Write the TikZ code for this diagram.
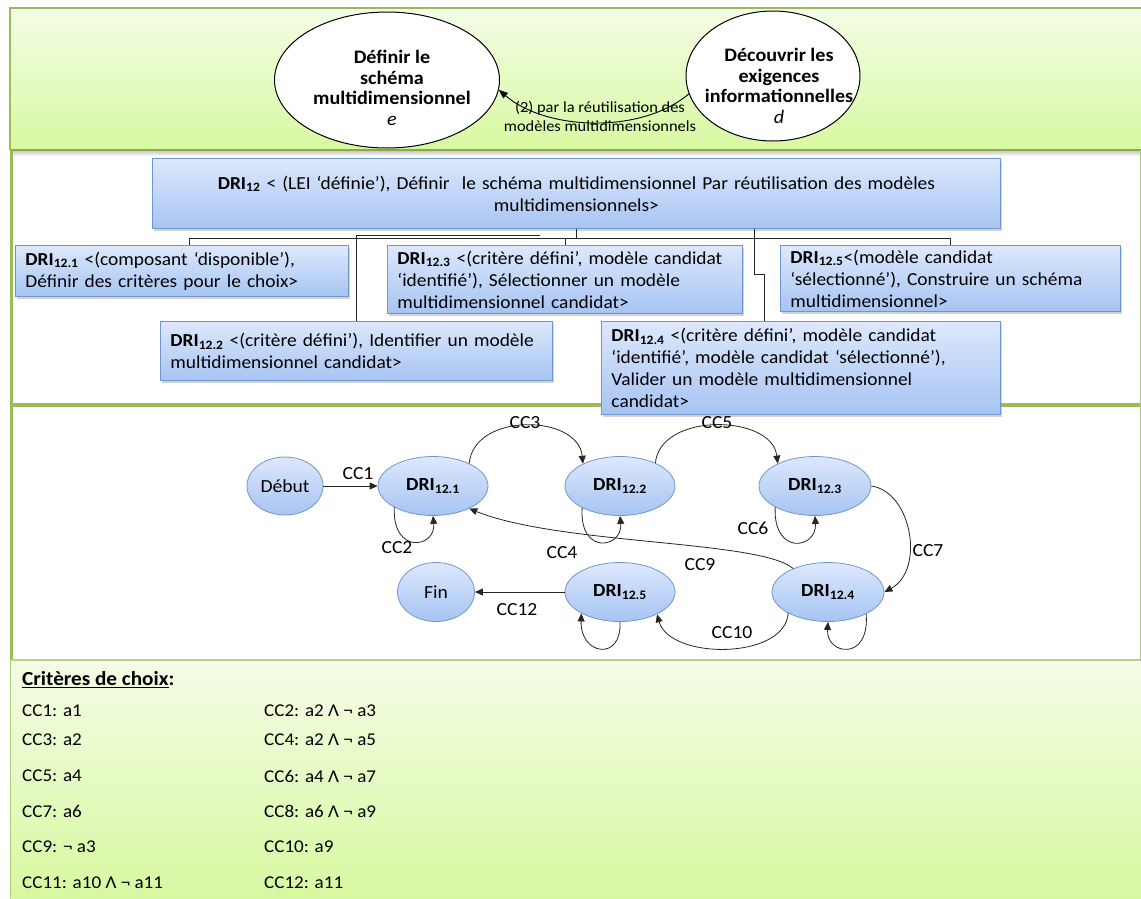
\documentclass[tikz,border=0pt]{standalone}
\usepackage{fontspec}
\setmainfont{Carlito}[FakeStretch=1.06]
\usetikzlibrary{arrows.meta,shapes.geometric,shadows,calc}
\definecolor{gtop}{HTML}{F3FDE6}
\definecolor{gbot}{HTML}{D8F8A0}
\definecolor{gline}{HTML}{9BBB59}
\definecolor{btop}{HTML}{DDE8FC}
\definecolor{bbot}{HTML}{A6C4F3}
\definecolor{bline}{HTML}{6E97CE}
\tikzset{
  dribox/.style={draw=bline, line width=0.9pt, top color=btop, bottom color=bbot,
    drop shadow={shadow xshift=2pt, shadow yshift=-2.5pt, opacity=0.35},
    anchor=north west, inner xsep=10pt, inner ysep=3pt, align=left,
    font=\fontsize{18.3}{22}\selectfont},
  state/.style={ellipse, draw=bline, line width=0.8pt, top color=btop, bottom color=bbot,
    inner sep=0pt, minimum width=110pt, minimum height=59pt,
    font=\fontsize{18.5}{20}\selectfont\bfseries},
  topell/.style={ellipse, draw=black, line width=1pt, fill=white, inner sep=0pt},
  toptxt/.style={align=center, inner sep=0pt, font=\fontsize{19}{20.5}\selectfont\bfseries},
  conn/.style={draw=black!85, line width=0.8pt},
  arr/.style={-{Triangle[length=8pt,width=7pt]}, line width=0.8pt, draw=black!85},
  lab/.style={inner sep=0pt, font=\fontsize{18.5}{20}\selectfont},
  crit/.style={anchor=west, inner sep=0pt, font=\fontsize{18}{22}\selectfont}
}
\begin{document}
\begin{tikzpicture}[x=1pt,y=1pt]
\useasboundingbox (0,0) rectangle (1141,-898);
\fill[white] (0,0) rectangle (1141,-898);
% panels
\shade[top color=gtop, bottom color=gbot] (10,-8) rectangle (1141,-150);
\draw[gline, line width=1.2pt] (1141,-8) -- (10,-8) -- (10,-150);
\fill[white] (11,-150) rectangle (1140,-660);
\shade[top color=black!25, bottom color=white] (11,-150) rectangle (1140,-156);
\draw[gline!90!black, line width=2pt] (10,-150) -- (1141,-150);
\draw[gline, line width=3pt] (11.5,-150) -- (11.5,-660);
\draw[gline, line width=4pt] (10,-405) -- (1140,-405);
\draw[gline!80, line width=1pt] (1140,-150) -- (1140,-660);
\shade[top color=gtop, bottom color=gbot] (10,-660) rectangle (1141,-898);
\draw[gline!70, line width=1.5pt] (10,-660) -- (1141,-660);
\draw[gline!80, line width=1.2pt] (10.5,-660) -- (10.5,-898);
% top panel
\node[topell, minimum width=225pt, minimum height=136pt] (E) at (387,-80) {};
\node[toptxt] (Et) at (392,-88) {Définir le\\schéma\\multidimensionnel\\{\mdseries\itshape e}};
\node[topell, minimum width=174pt, minimum height=130pt] (D) at (773,-76) {};
\node[toptxt] (Dt) at (779,-86) {Découvrir les\\exigences\\informationnelles\\{\mdseries\itshape d}};
\draw[-{Triangle[length=9pt,width=7pt]}, line width=0.9pt] (D.192) .. controls (640,-135) and (545,-130) .. (E.355);
\node[font=\fontsize{15.5}{19}\selectfont, align=center, inner sep=0pt] (lbl) at (600,-116)
  {(2) par la réutilisation des\\modèles multidimensionnels};
% middle panel boxes
\node[dribox, align=center, text width=828pt, minimum height=70pt] (P) at (152,-158)
  {\textbf{DRI}\textsubscript{\textbf{12}} < (LEI ‘définie’), Définir\ \ le schéma multidimensionnel Par réutilisation des modèles\\multidimensionnels>};
\node[dribox, text width=313pt, minimum height=51pt] (C1) at (15,-245)
  {\mbox{\textbf{DRI}\textsubscript{\textbf{12.1}} <(composant ‘disponible’),}\\\mbox{Définir des critères pour le choix>}};
\node[dribox, text width=335pt, minimum height=68pt] (C3) at (387,-245)
  {\mbox{\textbf{DRI}\textsubscript{\textbf{12.3}} <(critère défini’, modèle candidat}\\\mbox{‘identifié’), Sélectionner un modèle}\\\mbox{multidimensionnel candidat>}};
\node[dribox, text width=320pt, minimum height=66pt] (C5) at (780,-245)
  {\mbox{\textbf{DRI}\textsubscript{\textbf{12.5}}<(modèle candidat}\\\mbox{‘sélectionné’), Construire un schéma}\\\mbox{multidimensionnel>}};
\node[dribox, text width=372pt, minimum height=59pt] (C2) at (160,-321)
  {\mbox{\textbf{DRI}\textsubscript{\textbf{12.2}} <(critère défini’), Identifier un modèle}\\\mbox{multidimensionnel candidat>}};
\node[dribox, text width=379pt, minimum height=93pt] (C4) at (601,-321)
  {\mbox{\textbf{DRI}\textsubscript{\textbf{12.4}} <(critère défini’, modèle candidat}\\\mbox{‘identifié’, modèle candidat ‘sélectionné’),}\\\mbox{Valider un modèle multidimensionnel}\\\mbox{candidat>}};
% tree connectors
\coordinate (bus) at (576,-238);
\coordinate (c2end) at (540,-235);
\draw[conn] (P.south -| bus) -- (bus);
\draw[conn] ($(C1.north west)+(174,0)$) |- (C5.north |- bus) -- (C5.north);
\draw[conn] (C3.north) -- (C3.north |- bus);
\draw[conn] (C2.north) |- (c2end);
\draw[conn] ($(P.south west)+(602,0)$) -- ++(0,-45) -| ($(C4.north west)+(163,0)$);
% graph
\node[state, font=\fontsize{18.5}{20}\selectfont\mdseries, minimum width=76pt, minimum height=58pt] (deb) at (285,-486) {Début};
\node[state] (d1) at (433,-486) {DRI\textsubscript{12.1}};
\node[state] (d2) at (620,-486) {DRI\textsubscript{12.2}};
\node[state, minimum width=112pt] (d3) at (815,-486) {DRI\textsubscript{12.3}};
\node[state, minimum width=112pt] (d4) at (828,-592) {DRI\textsubscript{12.4}};
\node[state] (d5) at (620,-592) {DRI\textsubscript{12.5}};
\node[state, font=\fontsize{18.5}{20}\selectfont\mdseries, minimum width=77pt, minimum height=59pt] (fin) at (436,-592) {Fin};
\draw[arr] (deb) -- (d1);
\draw[arr] (d1.32) .. controls (474,-412) and (578,-414) .. (d2.149);
\draw[arr] (d2.33) .. controls (660,-412) and (772,-414) .. (d3.149);
\draw[arr] (d3.east) .. controls (912,-492) and (925,-570) .. (d4.east);
\draw[arr] (d4.146) .. controls (760,-540) and (560,-545) .. (d1.328);
\draw[arr] (d4.208) .. controls (785,-660) and (670,-660) .. (d5.329);
\draw[arr] (d5) -- (fin);
\draw[arr] (d1.209) .. controls (392,-555) and (436,-548) .. (d1.270);
\draw[arr] (d2.210) .. controls (579,-556) and (623,-548) .. (d2.270);
\draw[arr] (d3.208) .. controls (773,-556) and (817,-549) .. (d3.270);
\draw[arr] (d4.330) .. controls (870,-662) and (826,-655) .. (d4.270);
\draw[arr] (d5.270) .. controls (622,-662) and (580,-655) .. (d5.209);
\node[lab] (l1) at (358,-474) {CC1};
\node[lab] (l2) at (397,-548) {CC2};
\node[lab] (l3) at (525,-423) {CC3};
\node[lab] (l4) at (562,-553) {CC4};
\node[lab] (l5) at (717,-423) {CC5};
\node[lab] (l6) at (753,-528) {CC6};
\node[lab] (l7) at (928,-551) {CC7};
\node[lab] (l9) at (700,-565) {CC9};
\node[lab] (l10) at (732,-633) {CC10};
\node[lab] (l12) at (517,-610) {CC12};
% criteria
\node[crit, font=\fontsize{20}{22}\selectfont] (ct) at (22,-680) {\underline{\textbf{Critères de choix}}\textbf{:}};
\node[crit] (k1) at (22,-711) {CC1: a1};
\node[crit] (k3) at (22,-740) {CC3: a2};
\node[crit] (k5) at (22,-776) {CC5: a4};
\node[crit] (k7) at (22,-811) {CC7: a6};
\node[crit] (k9) at (22,-847) {CC9: ¬ a3};
\node[crit] (k11) at (22,-883) {CC11: a10 Λ ¬ a11};
\node[crit] (k2) at (264,-711) {CC2: a2 Λ ¬ a3};
\node[crit] (k4) at (264,-740) {CC4: a2 Λ ¬ a5};
\node[crit] (k6) at (264,-776) {CC6: a4 Λ ¬ a7};
\node[crit] (k8) at (264,-811) {CC8: a6 Λ ¬ a9};
\node[crit] (k10) at (264,-847) {CC10: a9};
\node[crit] (k12) at (264,-883) {CC12: a11};
\end{tikzpicture}
\end{document}
